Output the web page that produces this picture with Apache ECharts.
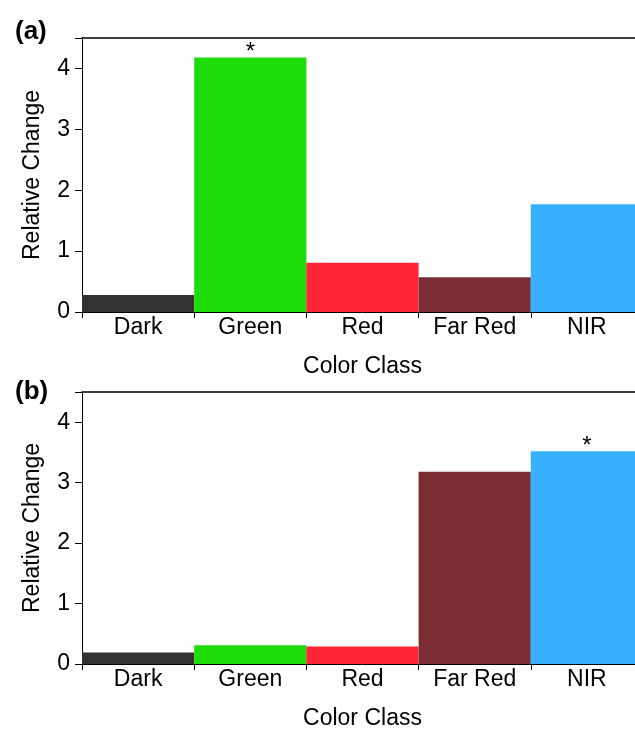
<!DOCTYPE html>
<html>
<head>
<meta charset="utf-8">
<script src="https://cdn.jsdelivr.net/npm/echarts@6/dist/echarts.min.js"></script>
<style>
html,body{margin:0;padding:0;background:#fff;overflow:hidden;}
#chart{width:643px;height:730px;}
</style>
</head>
<body>
<div id="chart"></div>
<script>
const categories = ['Dark', 'Green', 'Red', 'Far Red', 'NIR'];
const barColors = ['#333333', '#1edc0a', '#ff2535', '#7a2e33', '#38b0ff'];
const valuesA = [0.28, 4.18, 0.81, 0.57, 1.77];
const valuesB = [0.19, 0.31, 0.29, 3.18, 3.52];
const sigA = ['', '*', '', '', ''];
const sigB = ['', '', '', '', '*'];
const yTicks = [0, 1, 2, 3, 4];
const panelLabels = ['(a)', '(b)'];

const FONT = 'Liberation Sans, Arial, sans-serif';

function barData(vals, sig) {
  return vals.map((v, i) => ({
    value: v,
    itemStyle: { color: barColors[i] },
    label: { show: sig[i] !== '', formatter: sig[i] }
  }));
}

const grids = [
  { left: 82, top: 38, right: 0, height: 274, outerBoundsMode: 'none', containLabel: false },
  { left: 82, top: 392, right: 0, height: 272, outerBoundsMode: 'none', containLabel: false }
];

const xAxes = [];
const yAxes = [];
const series = [];
[valuesA, valuesB].forEach((vals, g) => {
  xAxes.push({
    type: 'category', gridIndex: g, data: categories, position: 'bottom',
    name: 'Color Class', nameLocation: 'middle', nameGap: 43,
    nameTextStyle: { fontFamily: FONT, fontSize: 23, color: '#000' },
    axisLine: { lineStyle: { color: '#000', width: 1 } },
    axisTick: { show: true, alignWithLabel: false, length: 6, lineStyle: { color: '#000' } },
    axisLabel: { fontFamily: FONT, fontSize: 23, color: '#000', margin: 4, interval: 0 }
  });
  xAxes.push({
    type: 'category', gridIndex: g, data: categories, position: 'top',
    axisLine: { show: true, lineStyle: { color: '#000', width: 1.5 } },
    axisTick: { show: false }, axisLabel: { show: false }
  });
  yAxes.push({
    type: 'value', gridIndex: g, min: 0, max: 4.5, interval: 1,
    name: 'Relative Change', nameLocation: 'middle', nameGap: 38, nameRotate: 90,
    nameTextStyle: { fontFamily: FONT, fontSize: 23, color: '#000' },
    axisLine: { show: true, lineStyle: { color: '#000', width: 1 } },
    axisTick: { show: true, length: 7, lineStyle: { color: '#000' } },
    splitLine: { show: false },
    axisLabel: {
      fontFamily: FONT, fontSize: 23, color: '#000', margin: 12,
      formatter: v => (yTicks.indexOf(v) >= 0 ? String(v) : '')
    }
  });
  series.push({
    type: 'bar', xAxisIndex: g * 2, yAxisIndex: g,
    data: barData(vals, g === 0 ? sigA : sigB),
    barCategoryGap: '0%', barWidth: '100%',
    label: { position: 'top', distance: 0, offset: [0, 7], fontFamily: FONT, fontSize: 24, color: '#000' },
    silent: true, animation: false
  });
});

const chart = echarts.init(document.getElementById('chart'), null, { renderer: 'canvas' });
chart.setOption({
  backgroundColor: '#fff',
  animation: false,
  title: [
    { text: panelLabels[0], left: 10, top: 14, textStyle: { fontFamily: FONT, fontSize: 26, fontWeight: 'bold', color: '#000' } },
    { text: panelLabels[1], left: 10, top: 374, textStyle: { fontFamily: FONT, fontSize: 26, fontWeight: 'bold', color: '#000' } }
  ],
  grid: grids,
  xAxis: xAxes,
  yAxis: yAxes,
  series: series
});
</script>
</body>
</html>
